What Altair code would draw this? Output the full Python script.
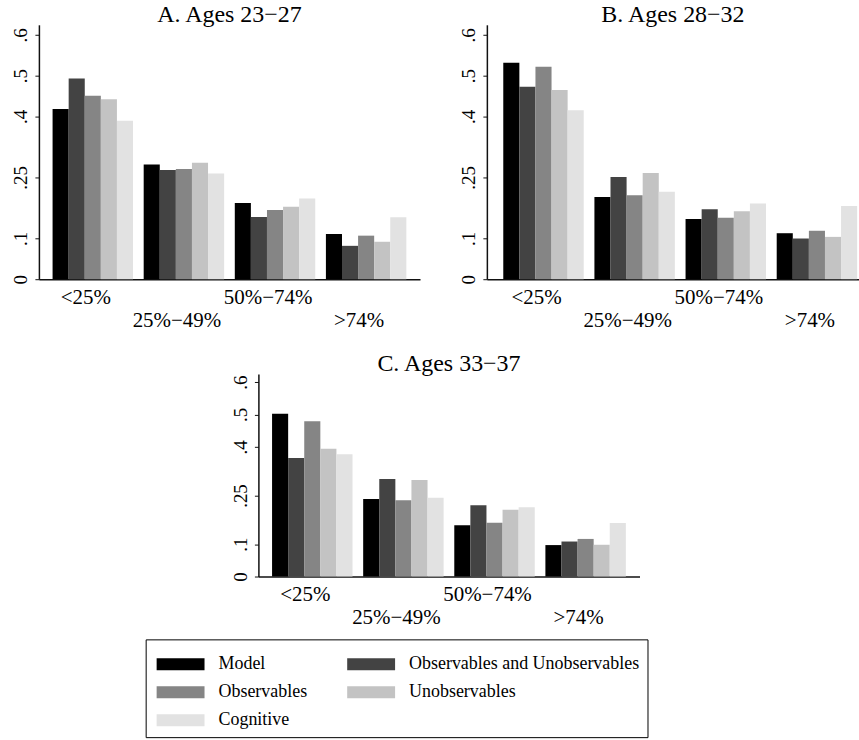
import altair as alt
import pandas as pd

groups = ["<25%", "25%\u221249%", "50%\u221274%", ">74%"]
series = ["Model", "Observables and Unobservables", "Observables", "Unobservables", "Cognitive"]
colors = ["#000000", "#434343", "#858585", "#c3c3c3", "#e2e2e2"]

# values per series, in order of groups
a_model = [0.418, 0.282, 0.187, 0.111]
a_obsun = [0.493, 0.268, 0.153, 0.082]
a_obs = [0.451, 0.271, 0.170, 0.107]
a_unobs = [0.442, 0.286, 0.178, 0.092]
a_cog = [0.389, 0.260, 0.198, 0.152]

b_model = [0.532, 0.202, 0.148, 0.113]
b_obsun = [0.473, 0.251, 0.172, 0.100]
b_obs = [0.522, 0.206, 0.151, 0.119]
b_unobs = [0.465, 0.261, 0.167, 0.104]
b_cog = [0.415, 0.215, 0.186, 0.180]

c_model = [0.502, 0.239, 0.158, 0.097]
c_obsun = [0.366, 0.301, 0.220, 0.108]
c_obs = [0.479, 0.235, 0.166, 0.116]
c_unobs = [0.394, 0.298, 0.206, 0.098]
c_cog = [0.377, 0.243, 0.214, 0.165]

titles = ["A. Ages 23\u221227", "B. Ages 28\u221232", "C. Ages 33\u221237"]
y_ticks = [0, 0.1, 0.25, 0.4, 0.5, 0.6]

panels = {
    titles[0]: [a_model, a_obsun, a_obs, a_unobs, a_cog],
    titles[1]: [b_model, b_obsun, b_obs, b_unobs, b_cog],
    titles[2]: [c_model, c_obsun, c_obs, c_unobs, c_cog],
}

rows = []
for t, vals in panels.items():
    for s, vlist in zip(series, vals):
        for g, v in zip(groups, vlist):
            rows.append({"panel": t, "group": g, "series": s, "value": v})
df = pd.DataFrame(rows)

FONT = "Liberation Serif"


def panel(title, width, height, po=0.15, align=0.5, legend=False):
    leg = None
    if legend:
        leg = alt.Legend(
            title=" ",
            titleOrient="top",
            titleFontSize=5,
            titlePadding=0,
            orient="none",
            legendX=107,
            legendY=616,
            direction="horizontal",
            columns=2,
            symbolType="M-0.75,-0.5H3.25V0.5H-0.75Z",
            symbolSize=576,
            symbolStrokeWidth=0,
            symbolOpacity=1,
            labelFont=FONT,
            labelFontSize=18,
            labelColor="black",
            labelOffset=41,
            labelLimit=400,
            columnPadding=37,
            rowPadding=7,
            padding=8,
            strokeColor="black",
            fillColor="white",
        )
    return (
        alt.Chart(df)
        .transform_filter(alt.datum.panel == title)
        .mark_bar(strokeWidth=0)
        .encode(
            x=alt.X(
                "group:N",
                sort=groups,
                scale=alt.Scale(paddingInner=0.117, paddingOuter=po, align=align),
                axis=alt.Axis(
                    title=None,
                    ticks=False,
                    labelAngle=0,
                    labelFont=FONT,
                    labelFontSize=21,
                    labelColor="black",
                    labelBaseline="top",
                    labelLineHeight=23,
                    labelPadding=7,
                    labelOffset=-7,
                    labelOverlap=False,
                    labelExpr="round(datum.index*3) % 2 == 1 ? ['', datum.label] : datum.label",
                    domainColor="#111111",
                    domainWidth=1.5,
                ),
            ),
            xOffset=alt.XOffset("series:N", sort=series, scale=alt.Scale(paddingInner=0, paddingOuter=0)),
            y=alt.Y(
                "value:Q",
                scale=alt.Scale(domain=[0, 0.625], nice=False, zero=True),
                axis=alt.Axis(
                    title=None,
                    values=y_ticks,
                    grid=False,
                    tickSize=4,
                    tickColor="#111111",
                    labelAngle=270,
                    labelAlign="center",
                    labelBaseline="bottom",
                    labelFont=FONT,
                    labelFontSize=19,
                    labelColor="black",
                    labelPadding=4,
                    labelExpr="datum.value == 0 ? '0' : replace(format(datum.value, '.2~f'), '0.', '.')",
                    domainColor="#111111",
                    domainWidth=1.5,
                ),
            ),
            color=alt.Color("series:N", sort=series, scale=alt.Scale(domain=series, range=colors), legend=leg),
        )
        .properties(
            width=width,
            height=height,
            title=alt.TitleParams(title, font=FONT, fontSize=24, fontWeight="normal", color="black", offset=-2),
        )
    )


pa = panel(titles[0], 382, 255, legend=True)
pb = panel(titles[1], 373, 255, po=0.1, align=0.9)
pc = panel(titles[2], 382, 203)

top = alt.hconcat(pa, pb, spacing=40)
chart = (
    alt.vconcat(top, pc, spacing=22, center=True)
    .properties(padding={"left": 12, "top": 2, "right": 0, "bottom": 0}, background="white")
    .configure_view(stroke="transparent", strokeWidth=0)
)

chart.save("out.html", embed_options={"renderer": "svg", "actions": False})
